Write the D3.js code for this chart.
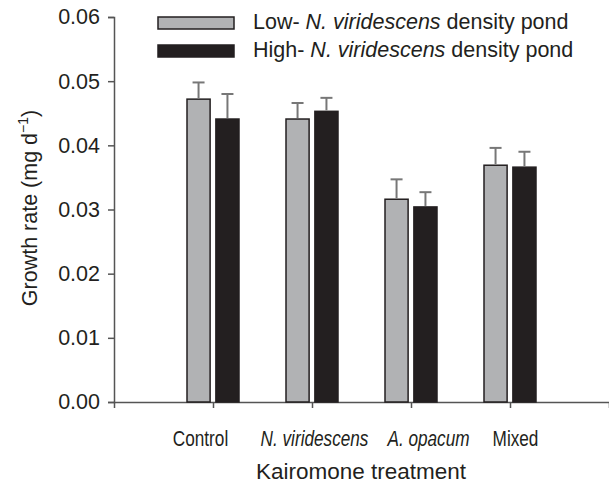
<!DOCTYPE html>
<html>
<head>
<meta charset="utf-8">
<script src="https://cdn.jsdelivr.net/npm/d3@7"></script>
<style>
  body { margin: 0; background: #fff; }
  svg { font-family: "Liberation Sans", Arial, sans-serif; }
</style>
</head>
<body>
<div id="chart"></div>
<script>
// growth rate data
const treatments = ['Control', 'N. viridescens', 'A. opacum', 'Mixed'];
const italicTreatments = ['N. viridescens', 'A. opacum'];
const lowDensity = [0.0472, 0.0441, 0.0316, 0.0369];
const lowDensityErr = [0.0026, 0.0025, 0.0031, 0.0027];
const highDensity = [0.0441, 0.0453, 0.0304, 0.0366];
const highDensityErr = [0.0039, 0.0021, 0.0023, 0.0024];
const yTicks = [0, 0.01, 0.02, 0.03, 0.04, 0.05, 0.06];

const width = 609, height = 485;
const margin = { top: 17, right: 0, bottom: 83, left: 114 };
const font = '"Liberation Sans", Arial, sans-serif';
const textColor = '#231f20';

const svg = d3.select('#chart')
    .append('svg')
    .attr('width', width)
    .attr('height', height);

const x = d3.scalePoint()
    .domain(treatments)
    .range([margin.left, width - margin.right])
    .padding(1);

const sub = d3.scaleBand()
    .domain(['low', 'high'])
    .range([-26, 26])
    .paddingInner(0.2);

const y = d3.scaleLinear()
    .domain([0, 0.06])
    .range([height - margin.bottom, margin.top]);

const series = [
    { key: 'low', values: lowDensity, errs: lowDensityErr, fill: '#b1b2b4' },
    { key: 'high', values: highDensity, errs: highDensityErr, fill: '#231f20' }
];

// axes
const axisColor = '#555';
const yAxis = svg.append('g')
    .attr('transform', `translate(${margin.left},0)`)
    .call(d3.axisLeft(y).tickValues(yTicks).tickFormat(d3.format('.2f')).tickSizeOuter(0).tickSize(6).tickPadding(8));

const xAxis = svg.append('g')
    .attr('transform', `translate(0,${height - margin.bottom})`)
    .call(d3.axisBottom(x).tickSizeOuter(0).tickSize(6));

[yAxis, xAxis].forEach(g => {
    g.selectAll('path, line').attr('stroke', axisColor).attr('stroke-width', 1.5);
    g.selectAll('text').attr('fill', textColor).attr('font-family', font);
});
yAxis.selectAll('text').attr('font-size', 21.5);

// category labels sit a bit off their ticks in the original and look squeezed
const labelShift = { 'Control': -13, 'N. viridescens': 2, 'A. opacum': 17, 'Mixed': 5 };
xAxis.selectAll('text')
    .attr('font-size', 21.5)
    .attr('x', d => labelShift[d] / 0.8)
    .attr('y', 44)
    .attr('dy', 0)
    .attr('transform', 'scale(0.8,1)')
    .attr('font-style', d => italicTreatments.includes(d) ? 'italic' : 'normal');

// bars
series.forEach(s => {
    const g = svg.append('g');
    g.selectAll('rect')
        .data(treatments)
        .enter()
        .append('rect')
        .attr('x', (d, i) => x(d) + sub(s.key))
        .attr('y', (d, i) => y(s.values[i]))
        .attr('width', sub.bandwidth())
        .attr('height', (d, i) => y(0) - y(s.values[i]))
        .attr('fill', s.fill)
        .attr('stroke', '#231f20')
        .attr('stroke-width', 1.5);

    // upward error bars
    const cx = d => x(d) + sub(s.key) + sub.bandwidth() / 2;
    g.selectAll('line.err')
        .data(treatments)
        .enter()
        .append('line')
        .attr('class', 'err')
        .attr('x1', cx).attr('x2', cx)
        .attr('y1', (d, i) => y(s.values[i]) - 1)
        .attr('y2', (d, i) => y(s.values[i] + s.errs[i]))
        .attr('stroke', '#777')
        .attr('stroke-width', 2);
    g.selectAll('line.cap')
        .data(treatments)
        .enter()
        .append('line')
        .attr('class', 'cap')
        .attr('x1', d => cx(d) - 6).attr('x2', d => cx(d) + 6)
        .attr('y1', (d, i) => y(s.values[i] + s.errs[i]))
        .attr('y2', (d, i) => y(s.values[i] + s.errs[i]))
        .attr('stroke', '#777')
        .attr('stroke-width', 2);
});

// axis titles
svg.append('text')
    .attr('x', 361)
    .attr('y', 479)
    .attr('text-anchor', 'middle')
    .attr('font-size', 22.5)
    .attr('fill', textColor)
    .text('Kairomone treatment');

const yTitle = svg.append('text')
    .attr('transform', 'translate(37,208) rotate(-90)')
    .attr('text-anchor', 'middle')
    .attr('font-size', 21.5)
    .attr('fill', textColor);
yTitle.append('tspan').text('Growth rate (mg d');
yTitle.append('tspan').attr('dy', -9).attr('font-size', 14).text('\u22121');
yTitle.append('tspan').attr('dy', 9).text(')');

// legend
const legendItems = [
    { label: 'Low- ', fill: '#b1b2b4' },
    { label: 'High- ', fill: '#231f20' }
];
const legend = svg.append('g');
legendItems.forEach((d, i) => {
    const ly = 17 + i * 28;
    legend.append('rect')
        .attr('x', 158).attr('y', ly)
        .attr('width', 76).attr('height', 12)
        .attr('fill', d.fill)
        .attr('stroke', '#231f20')
        .attr('stroke-width', 1.5);
    const t = legend.append('text')
        .attr('x', 253).attr('y', ly + 12)
        .attr('font-size', 21.5)
        .attr('fill', textColor);
    t.append('tspan').text(d.label);
    t.append('tspan').attr('font-style', 'italic').text('N. viridescens');
    t.append('tspan').text(' density pond');
});
</script>
</body>
</html>
